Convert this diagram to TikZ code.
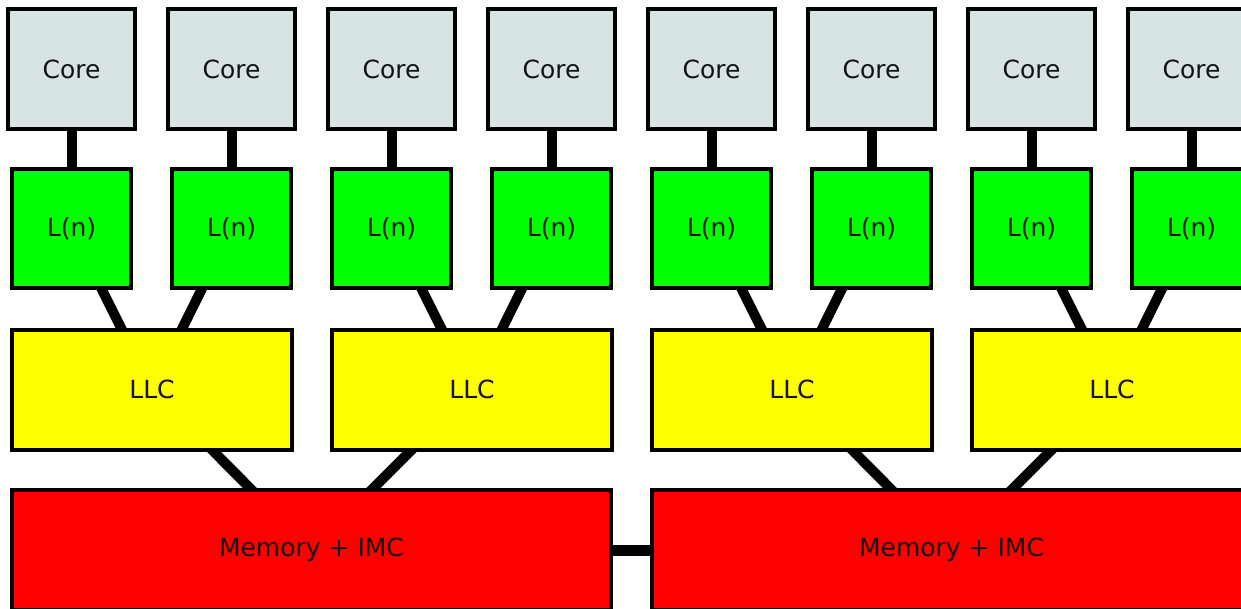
\documentclass[tikz,border=0pt]{standalone}
\usepackage{fontspec}
\setmainfont{DejaVu Sans}
\usetikzlibrary{backgrounds}
\definecolor{corefill}{RGB}{216,228,228}
\definecolor{cachegreen}{RGB}{0,255,0}
\definecolor{llcyellow}{RGB}{255,255,0}
\definecolor{memred}{RGB}{255,0,0}

\begin{document}
\begin{tikzpicture}[x=1pt,y=-1pt,
  box/.style={draw=black, line width=4pt, inner sep=0pt,
              font=\fontsize{25}{30}\selectfont, text=black!92},
  corebox/.style={box, fill=corefill, minimum width=127pt, minimum height=120pt},
  lnbox/.style={box, fill=cachegreen, minimum width=119pt, minimum height=119pt},
  llcbox/.style={box, fill=llcyellow, minimum width=280pt, minimum height=120pt},
  membox/.style={box, fill=memred, minimum width=599pt, minimum height=120pt},
  link/.style={draw=black, line width=10pt}
]
\useasboundingbox (0,0) rectangle (1241,609);
\clip (0,0) rectangle (1241,609);

% cores and their private caches
\foreach \i in {1,...,8} {
  \node[corebox] (core\i) at ({71.5+160*(\i-1)}, 69) {Core};
  \node[lnbox]   (ln\i)   at ({71.5+160*(\i-1)}, 229) {L(n)};
}

% shared last-level caches
\foreach \j in {1,...,4} {
  \node[llcbox] (llc\j) at ({152+320*(\j-1)}, 389.5) {LLC};
}

% memory with integrated memory controller
\node[membox] (mem1) at (311.5, 550) {Memory + IMC};
\node[membox] (mem2) at (951.5, 550) {Memory + IMC};

% interconnect, drawn behind the boxes
\begin{scope}[on background layer]
  \foreach \i in {1,...,8}
    \draw[link] (core\i.center) -- (ln\i.center);
  \foreach \i/\j in {1/1,2/1,3/2,4/2,5/3,6/3,7/4,8/4}
    \draw[link] (ln\i.center) -- (llc\j.center);
  \foreach \j/\m in {1/1,2/1,3/2,4/2}
    \draw[link] (llc\j.center) -- (mem\m.center);
  \draw[link, line width=11pt] (mem1.center) -- (mem2.center);
\end{scope}
\end{tikzpicture}
\end{document}
